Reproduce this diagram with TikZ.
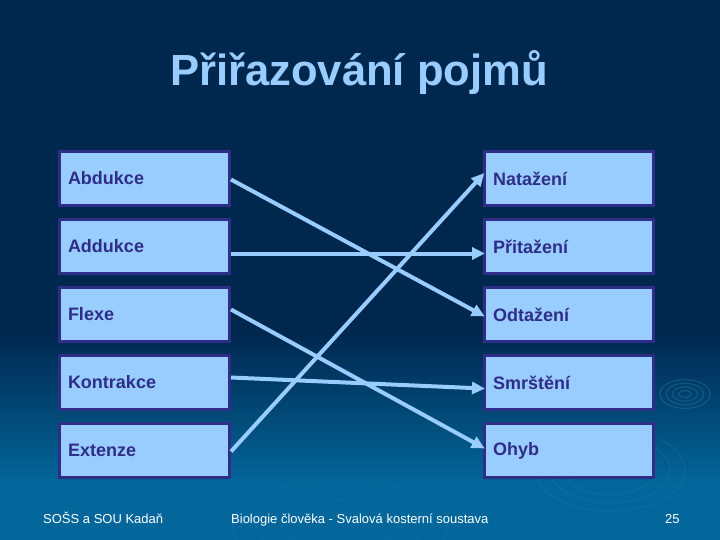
\documentclass[tikz,border=0pt]{standalone}
\usepackage{fontspec}
\setmainfont{Liberation Sans}
\usetikzlibrary{arrows.meta}
\definecolor{bgtop}{HTML}{00284F}
\definecolor{bgbot}{HTML}{03679B}
\definecolor{boxfill}{HTML}{99CCFF}
\definecolor{boxline}{HTML}{2E2E88}
\definecolor{arrowc}{HTML}{99CCFF}
\definecolor{ripple}{HTML}{2C86B8}
\tikzset{
  termbox/.style={draw=boxline, line width=3pt, fill=boxfill, rectangle,
    minimum height=54pt, inner xsep=8.5pt, inner ysep=0pt,
    text width=153pt, align=left, text=boxline,
    font=\fontsize{18}{20}\selectfont\bfseries},
  leftbox/.style={termbox, minimum width=170pt},
  rightbox/.style={termbox, minimum width=169pt, text width=152pt},
  link/.style={draw=arrowc, line width=4pt, -{Triangle[length=13pt,width=12pt]}, shorten >=-2pt},
  footer/.style={text=white, font=\fontsize{13}{15}\selectfont, inner sep=0pt, anchor=base west},
  ripplestyle/.style={draw=ripple, line width=1.2pt, opacity=0.35}
}
\begin{document}
\begin{tikzpicture}[x=1pt, y=-1pt]
\useasboundingbox (0,0) rectangle (720,540);
% background
\fill[bgtop] (0,0) rectangle (720,335);
\shade[top color=bgtop, bottom color=bgbot] (0,334) rectangle (720,486);
\fill[bgbot] (0,485) rectangle (720,540);
% ripples
\foreach \r in {6,12,18,24} {\draw[ripplestyle] (685,394) ellipse ({\r*1.05} and {\r*0.6});}
\foreach \r in {45,60,75} {\draw[ripplestyle, opacity=0.2] (610,470) ellipse ({\r} and {\r*0.55});}
\foreach \r in {50,70,90} {\draw[ripplestyle, opacity=0.15] (340,525) ellipse ({\r*1.2} and {\r*0.5});}
% title
\node[anchor=base, text=boxfill, inner sep=0pt, font=\fontsize{43.6}{50}\selectfont\bfseries] (title) at (359,86) {Přiřazování pojmů};
% left boxes
\node[leftbox] (abd) at (144.5,178.5) {Abdukce};
\node[leftbox] (add) at (144.5,246.5) {Addukce};
\node[leftbox] (fle) at (144.5,314.5) {Flexe};
\node[leftbox] (kon) at (144.5,382.5) {Kontrakce};
\node[leftbox] (ext) at (144.5,450.5) {Extenze};
% right boxes
\node[rightbox] (nat) at (569,178.5) {Natažení};
\node[rightbox] (pri) at (569,246.5) {Přitažení};
\node[rightbox] (odt) at (569,314.5) {Odtažení};
\node[rightbox] (smr) at (569,382.5) {Smrštění};
\node[rightbox] (ohy) at (569,450.5) {Ohyb};
% connectors
\draw[link] ([yshift=-1pt]abd.east) -- ([yshift=-1pt]odt.west);
\draw[link] ([yshift=-7pt]add.east) -- ([yshift=-7pt]pri.west);
\draw[link] ([yshift=5pt]fle.east) -- ([yshift=3pt]ohy.west);
\draw[link] ([yshift=5pt]kon.east) -- ([yshift=-6pt]smr.west);
\draw[link] ([yshift=-1pt]ext.east) -- ([yshift=4pt]nat.west);
% footer
\node[footer] (f1) at (43,523) {SOŠS a SOU Kadaň};
\node[footer] (f2) at (231,523) {Biologie člověka - Svalová kosterní soustava};
\node[footer] (f3) at (665,523) {25};
\end{tikzpicture}
\end{document}
